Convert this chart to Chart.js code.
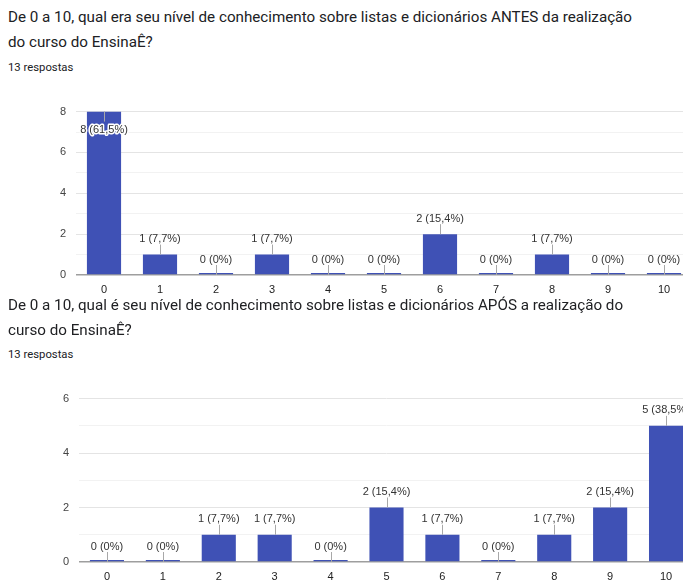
<!DOCTYPE html>
<html>
<head>
<meta charset="utf-8">
<script src="https://cdn.jsdelivr.net/npm/chart.js@4.4.0/dist/chart.umd.min.js"></script>
<style>
html, body { margin: 0; padding: 0; background: #fff; width: 683px; height: 580px; overflow: hidden; position: relative; }
.q { position: absolute; left: 8px; font-family: Roboto, "Noto Sans", sans-serif; font-size: 15.2px; line-height: 25px; color: #202124; white-space: nowrap; }
.n { position: absolute; left: 8px; font-family: Roboto, "Noto Sans", sans-serif; font-size: 11.3px; color: #202124; }
.box { position: absolute; left: 0; }
</style>
</head>
<body>
<div class="box" style="top:95px"><canvas id="antes" width="700" height="205"></canvas></div>
<div class="box" style="top:382px"><canvas id="depois" width="700" height="205"></canvas></div>

<div class="q" style="top:5px">De 0 a 10, qual era seu nível de conhecimento sobre listas e dicionários ANTES da realização<br>do curso do EnsinaÊ?</div>
<div class="n" style="top:61px">13 respostas</div>
<div class="q" style="top:293px">De 0 a 10, qual é seu nível de conhecimento sobre listas e dicionários APÓS a realização do<br>curso do EnsinaÊ?</div>
<div class="n" style="top:348px">13 respostas</div>

<script>
const notas = ['0', '1', '2', '3', '4', '5', '6', '7', '8', '9', '10'];
const respostasAntes = [8, 1, 0, 1, 0, 0, 2, 0, 1, 0, 0];
const respostasDepois = [0, 0, 1, 1, 0, 2, 1, 0, 1, 2, 5];
const totalRespostas = 13;

Chart.defaults.font.family = 'Arial, "Liberation Sans", sans-serif';
Chart.defaults.font.size = 11;

function porcentagem(v) {
    if (v === 0) return '0%';
    return (v / totalRespostas * 100).toFixed(1).replace('.', ',') + '%';
}

// rótulo "n (x%)" com a hastezinha ligando ao topo da barra
const rotulos = {
    id: 'rotulos',
    afterDatasetsDraw(chart) {
        const ctx = chart.ctx;
        const area = chart.chartArea;
        const meta = chart.getDatasetMeta(0);
        const dados = chart.data.datasets[0].data;
        ctx.save();
        ctx.font = '11px Arial, "Liberation Sans", sans-serif';
        ctx.textAlign = 'center';
        ctx.textBaseline = 'middle';
        meta.data.forEach((bar, i) => {
            const v = dados[i];
            const texto = v + ' (' + porcentagem(v) + ')';
            const topo = chart.scales.y.getPixelForValue(v);
            const x = Math.round(bar.x) + 0.5;
            let y, h0, h1;
            const dentro = topo - 22 < area.top;
            if (dentro) {
                h0 = topo; h1 = topo + 10; y = topo + 18;
            } else {
                h0 = topo - 10; h1 = topo; y = topo - 15.5;
            }
            ctx.strokeStyle = '#a8a8a8';
            ctx.lineWidth = 1;
            ctx.beginPath();
            ctx.moveTo(x, h0);
            ctx.lineTo(x, h1);
            ctx.stroke();
            if (dentro) {
                ctx.lineWidth = 3;
                ctx.strokeStyle = '#fff';
                ctx.lineJoin = 'round';
                ctx.strokeText(texto, bar.x, y);
            }
            ctx.fillStyle = '#333';
            ctx.fillText(texto, bar.x, y);
        });
        ctx.restore();
    }
};

function criarGrafico(id, dados, maximo, larguraEixo, folgaTopo, folgaDireita) {
    return new Chart(document.getElementById(id).getContext('2d'), {
        type: 'bar',
        data: {
            labels: notas,
            datasets: [{
                data: dados,
                backgroundColor: '#3f51b5',
                categoryPercentage: 1,
                barPercentage: 0.61,
                minBarLength: 2
            }]
        },
        options: {
            responsive: false,
            animation: false,
            layout: { padding: { top: folgaTopo, right: folgaDireita, left: 0, bottom: 0 } },
            scales: {
                x: {
                    grid: { display: false, drawTicks: false },
                    border: { display: false },
                    ticks: { color: '#222', padding: 8 },
                    afterFit(a) { a.height = 25; }
                },
                y: {
                    min: 0,
                    max: maximo,
                    border: { display: false },
                    grid: {
                        drawTicks: false,
                        color: c => c.tick.value === 0 ? '#9e9e9e' : (c.tick.value % 2 === 0 ? '#e4e4e4' : '#f2f2f2'),
                        lineWidth: c => c.tick.value === 0 ? 1.5 : 1
                    },
                    ticks: {
                        stepSize: 1,
                        padding: 10,
                        color: '#444',
                        callback: v => v % 2 === 0 ? v : ''
                    },
                    afterFit(a) { a.width = larguraEixo; }
                }
            },
            plugins: {
                legend: { display: false },
                tooltip: { enabled: false }
            }
        },
        plugins: [rotulos]
    });
}

criarGrafico('antes', respostasAntes, 8, 76, 12, 8);
criarGrafico('depois', respostasDepois, 6, 79, 13, 6);
</script>
</body>
</html>
